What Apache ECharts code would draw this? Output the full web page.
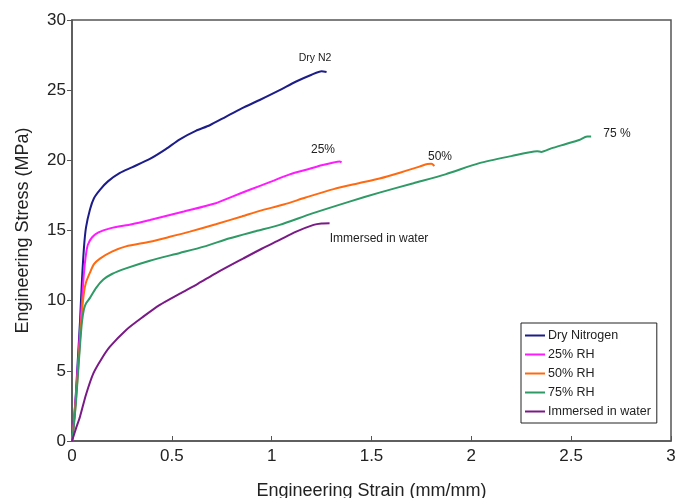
<!DOCTYPE html>
<html><head><meta charset="utf-8">
<script src="https://cdn.jsdelivr.net/npm/echarts@6/dist/echarts.min.js"></script>
<style>html,body{margin:0;padding:0;background:#fff}#c{width:677px;height:498px}</style>
</head><body><div id="c"></div>
<script>
const seriesNames = ['Dry Nitrogen','25% RH','50% RH','75% RH','Immersed in water'];
const colors = ['#1c1c8a','#ff1aff','#ff6a10','#2e9a66','#7a1a86'];
const dryN2 = [[0,0],[0.01,1.5],[0.02,3.5],[0.03,6],[0.04,8.5],[0.05,11.5],[0.06,13.8],[0.07,15.2],[0.09,16.5],[0.11,17.3],[0.14,17.9],[0.18,18.5],[0.24,19.1],[0.3,19.5],[0.39,20.1],[0.47,20.8],[0.54,21.5],[0.62,22.1],[0.69,22.5],[0.77,23.1],[0.85,23.7],[0.94,24.3],[1.04,25.0],[1.12,25.6],[1.2,26.1],[1.25,26.35],[1.275,26.3]];
const rh25 = [[0,0],[0.01,1.5],[0.02,3.3],[0.03,5.5],[0.04,7.8],[0.05,10],[0.06,12],[0.07,13.3],[0.08,14],[0.1,14.5],[0.13,14.85],[0.19,15.15],[0.3,15.45],[0.39,15.75],[0.56,16.35],[0.72,16.94],[0.8,17.4],[0.89,17.9],[1.0,18.5],[1.09,19.0],[1.19,19.4],[1.25,19.65],[1.31,19.85],[1.34,19.92],[1.35,19.85]];
const rh50 = [[0,0],[0.01,1.3],[0.02,3],[0.03,5],[0.04,7.2],[0.05,9.2],[0.06,10.6],[0.07,11.3],[0.09,12],[0.11,12.6],[0.14,13.0],[0.2,13.5],[0.27,13.87],[0.39,14.2],[0.49,14.55],[0.59,14.92],[0.72,15.45],[0.85,16.0],[0.94,16.4],[1.06,16.85],[1.17,17.35],[1.31,17.95],[1.43,18.35],[1.54,18.7],[1.65,19.15],[1.74,19.55],[1.78,19.74],[1.8,19.75],[1.815,19.6]];
const rh75 = [[0,0],[0.01,1.2],[0.02,2.8],[0.03,4.8],[0.04,6.8],[0.05,8.5],[0.06,9.4],[0.07,9.8],[0.09,10.2],[0.12,10.9],[0.157,11.5],[0.2,11.9],[0.27,12.3],[0.39,12.85],[0.54,13.4],[0.66,13.85],[0.79,14.45],[0.92,14.95],[1.04,15.4],[1.2,16.2],[1.39,17.06],[1.54,17.7],[1.71,18.37],[1.87,19.0],[2.04,19.8],[2.2,20.3],[2.33,20.65],[2.35,20.6],[2.4,20.85],[2.47,21.15],[2.54,21.45],[2.58,21.7],[2.6,21.7]];
const water = [[0,0],[0.02,0.9],[0.04,1.73],[0.07,3.3],[0.107,4.82],[0.15,5.9],[0.19,6.72],[0.27,7.9],[0.357,8.86],[0.44,9.7],[0.54,10.5],[0.63,11.2],[0.72,11.95],[0.857,13.0],[0.95,13.7],[1.04,14.33],[1.12,14.9],[1.21,15.4],[1.25,15.5],[1.29,15.52]];
const curveLabels = ['Dry N2','25%','50%','75 %','Immersed in water'];
const allData = [dryN2, rh25, rh50, rh75, water];

const chart = echarts.init(document.getElementById('c'));
const font = 'Liberation Sans, Arial, sans-serif';
const labelPos = [[315,58,10.5],[323,150,12],[440,157,12],[617,134,12],[379,239,12]];
chart.setOption({
  animation:false,
  grid:{left:72,right:6,top:20,bottom:57,show:true,borderColor:'#555',borderWidth:1.5,outerBoundsMode:'none',containLabel:false},
  xAxis:{type:'value',min:0,max:3,interval:0.5,name:'Engineering Strain (mm/mm)',nameLocation:'middle',nameGap:41,
    nameTextStyle:{fontFamily:font,fontSize:18,color:'#222'},
    axisLine:{show:true,lineStyle:{color:'#555',width:1.5}},axisTick:{show:true,inside:true,length:5,lineStyle:{color:'#555'}},
    axisLabel:{fontFamily:font,fontSize:17,color:'#222',margin:7},splitLine:{show:false}},
  yAxis:{type:'value',min:0,max:30,interval:5,name:'Engineering Stress (MPa)',nameLocation:'middle',nameGap:40,
    nameTextStyle:{fontFamily:font,fontSize:18,color:'#222'},
    axisLine:{show:true,lineStyle:{color:'#555',width:1.5}},axisTick:{show:true,length:5,lineStyle:{color:'#555'}},
    axisLabel:{fontFamily:font,fontSize:17,color:'#222',margin:6},splitLine:{show:false}},
  legend:{orient:'vertical',left:521,top:323,width:138,borderColor:'#222',borderWidth:1,padding:[6,6,5,4],
    icon:'rect',itemWidth:20,itemHeight:2,itemGap:6,
    textStyle:{fontFamily:font,fontSize:12.5,color:'#222',padding:[0,0,0,-2],lineHeight:13},data:seriesNames},
  series: seriesNames.map((n,i)=>({name:n,type:'line',data:allData[i],showSymbol:false,smooth:0.25,
    lineStyle:{color:colors[i],width:2},itemStyle:{color:colors[i]}})),
  graphic: curveLabels.map((t,i)=>({type:'text',x:labelPos[i][0],y:labelPos[i][1],
    style:{text:t,fontFamily:font,fontSize:labelPos[i][2],fill:'#222',align:'center',verticalAlign:'middle'}}))
});
</script></body></html>
